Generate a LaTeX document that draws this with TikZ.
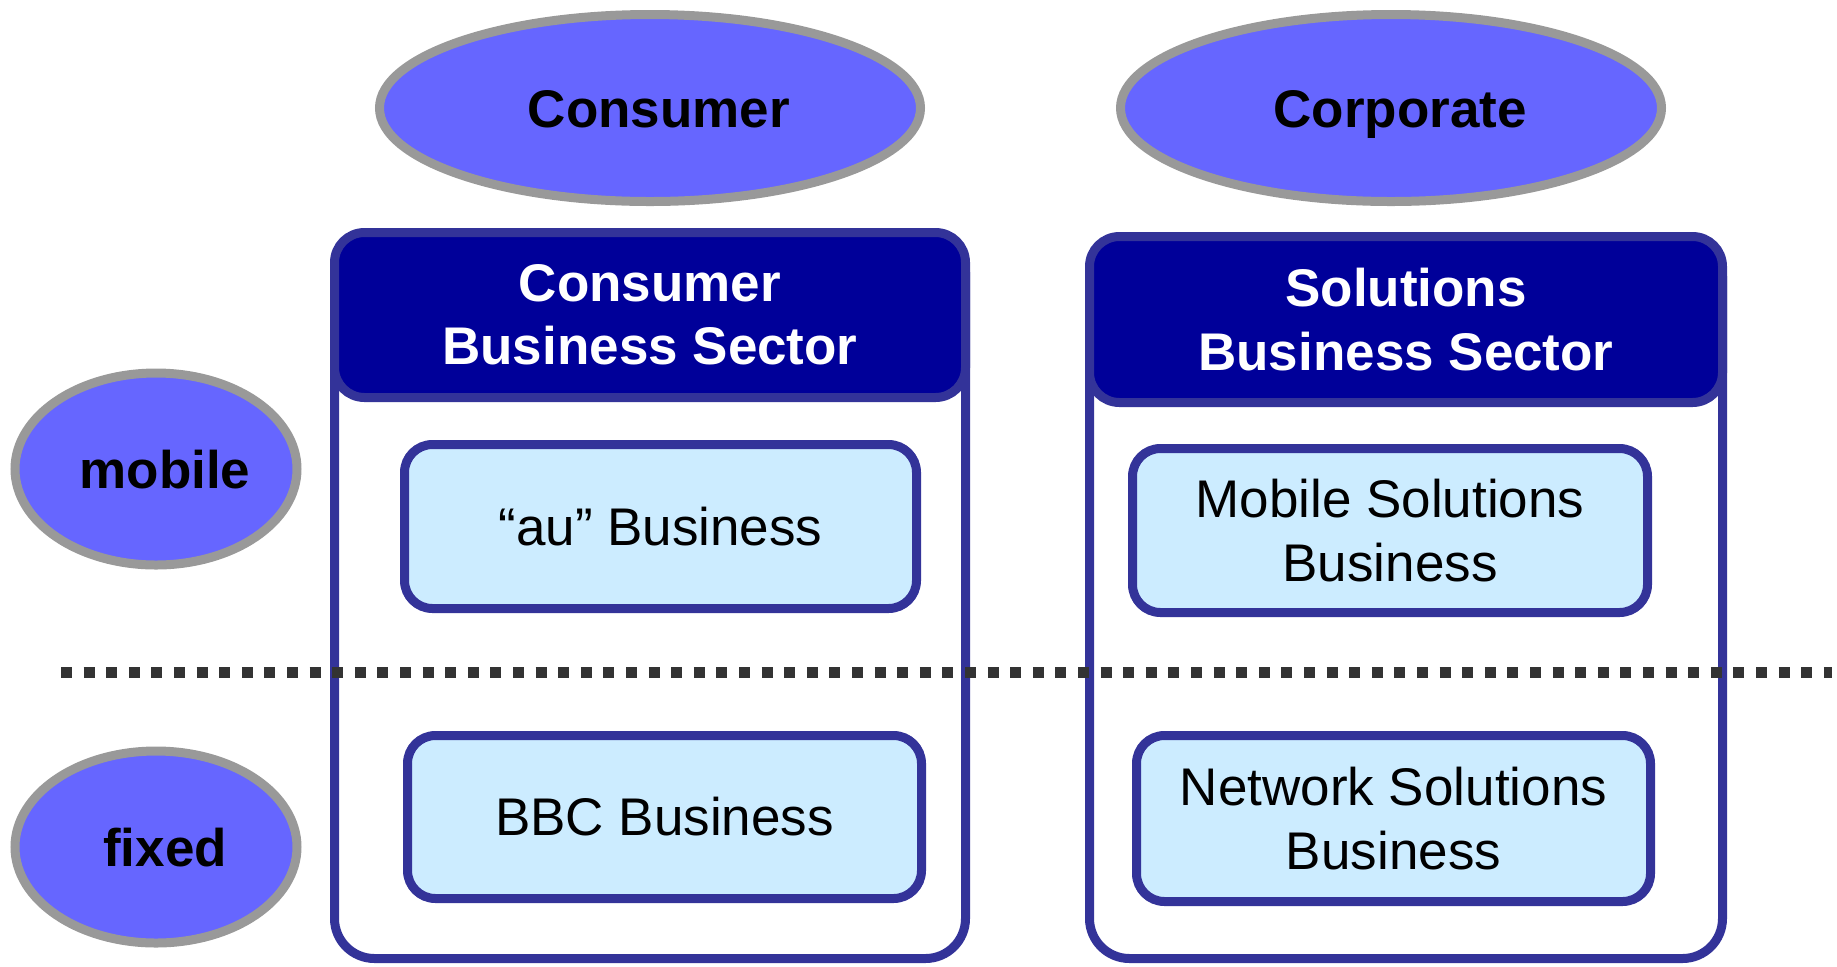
\documentclass[tikz,border=0pt]{standalone}
\usepackage{fontspec}
\setmainfont{Liberation Sans}
\usetikzlibrary{shapes.geometric}
\definecolor{ellfill}{HTML}{6666FF}
\definecolor{ellline}{HTML}{999999}
\definecolor{navy}{HTML}{000099}
\definecolor{boxline}{HTML}{333399}
\definecolor{lightblue}{HTML}{CCECFF}
\definecolor{dotgray}{HTML}{333333}
\tikzset{
  oval/.style={ellipse, draw=ellline, fill=ellfill, line width=4.5pt, inner sep=0pt,
    text height=19.3pt, text depth=0pt,
    font=\fontsize{26.5}{31.6}\selectfont\bfseries, text=black},
  sectorbox/.style={rectangle, draw=boxline, fill=white, line width=4.5pt, rounded corners=20pt, inner sep=0pt},
  headbox/.style={rectangle, draw=boxline, fill=navy, line width=4.5pt, rounded corners=15pt, inner sep=0pt,
    align=center, text=white, font=\fontsize{26.5}{31.6}\selectfont\bfseries},
  bizbox/.style={rectangle, draw=boxline, fill=lightblue, line width=4.5pt, rounded corners=14pt, inner sep=0pt,
    align=center, text=black, font=\fontsize{26.5}{31.6}\selectfont},
  divider/.style={draw=dotgray, line width=5.5pt, dash pattern=on 5.5pt off 5.8pt}
}
\begin{document}
\begin{tikzpicture}[x=0.5pt, y=-0.5pt]
\useasboundingbox (0,0) rectangle (1837,966);
% top ellipses
\node[oval, minimum width=270.5pt, minimum height=93.5pt] (cons) at (650,108) {\hspace*{9pt}Consumer};
\node[oval, minimum width=270.5pt, minimum height=93.5pt] (corp) at (1391,108) {\hspace*{9pt}Corporate};
% left ellipses
\node[oval, minimum width=141pt, minimum height=96pt] (mobile) at (156,469) {\hspace*{9pt}mobile};
\node[oval, minimum width=141pt, minimum height=96pt] (fixed) at (156,847) {\hspace*{9pt}fixed};
% sector boxes
\node[sectorbox, minimum width=315.5pt, minimum height=363pt] (cbs) at (650,595.5) {};
\node[headbox, minimum width=315.5pt, minimum height=82.5pt] (cbsh) at (650,315) {Consumer\\Business Sector};
\node[sectorbox, minimum width=316.5pt, minimum height=361pt] (sbs) at (1406,597.5) {};
\node[headbox, minimum width=316.5pt, minimum height=83pt] (sbsh) at (1406,319.5) {Solutions\\Business Sector};
% business boxes
\node[bizbox, minimum width=256pt, minimum height=82pt] (au) at (660.5,526.5) {“au” Business};
\node[bizbox, minimum width=257pt, minimum height=81.5pt] (bbc) at (664.5,817) {BBC Business};
\node[bizbox, minimum width=257.5pt, minimum height=82pt] (msb) at (1390,530.5) {Mobile Solutions\\Business};
\node[bizbox, minimum width=257pt, minimum height=83pt] (nsb) at (1393.5,818.5) {Network Solutions\\Business};
% divider
\coordinate (dl) at (61,672);
\coordinate (dr) at (1832,672);
\draw[divider] (dl) -- (dr);
\end{tikzpicture}
\end{document}
